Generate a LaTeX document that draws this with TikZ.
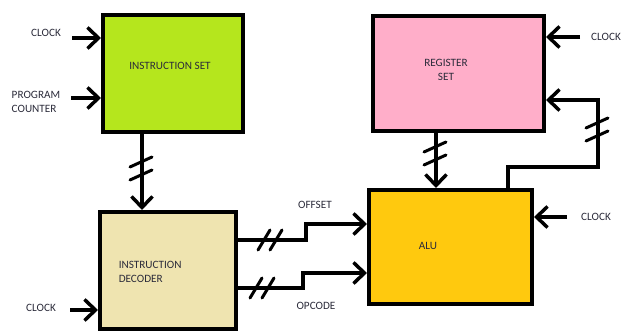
\documentclass[tikz,border=0pt]{standalone}
\usepackage{fontspec}
\setmainfont{Carlito}
\usetikzlibrary{arrows.meta}
\definecolor{isetgreen}{HTML}{B5E61D}
\definecolor{regpink}{HTML}{FFAEC9}
\definecolor{decbeige}{HTML}{EFE4B0}
\definecolor{aluorange}{HTML}{FFC90E}
\definecolor{lbltext}{HTML}{2B2B3A}
\begin{document}
\begin{tikzpicture}[x=1pt, y=-1pt, line width=3.5pt,
    block/.style={draw, line width=4pt, inner sep=0pt},
    sig/.style={-{Straight Barb[length=11pt,width=21pt]}},
    lbl/.style={font=\fontsize{11.2}{14}\selectfont, text=lbltext, inner sep=0pt},
    pics/vbus/.style={code={\draw[line width=3pt, line cap=round]
        (-11,-1) -- (11,-11) (-11,12) -- (11,2);}},
    pics/hbus/.style={code={\draw[line width=3pt, line cap=round]
        (-12,10) -- (0,-10) (0,10) -- (12,-10);}}]
    \useasboundingbox (0,0) rectangle (622,331);

    \node[block, fill=isetgreen, minimum width=140pt, minimum height=117pt] (iset) at (173,73.5) {};
    \node[block, fill=regpink, minimum width=171pt, minimum height=115pt] (rset) at (458.5,73.5) {};
    \node[block, fill=decbeige, minimum width=136pt, minimum height=117pt] (idec) at (168,270.5) {};
    \node[block, fill=aluorange, minimum width=163pt, minimum height=114pt] (alu) at (450.5,247) {};

    \node[lbl] (isetlbl) at (170,66) {INSTRUCTION SET};
    \node[lbl, align=center] (rsetlbl) at (446,70) {REGISTER\\SET};
    \node[lbl, align=left, anchor=west] (ideclbl) at (117,271.5) {INSTRUCTION\\DECODER};
    \node[lbl] (alulbl) at (428,246) {ALU};

    % clocks and program counter
    \coordinate (clkA) at (72,38);
    \coordinate (pcin) at (71,98);
    \coordinate (clkB) at (580,37);
    \coordinate (clkC) at (567,217);
    \coordinate (clkD) at (70,310);
    \draw[sig] (clkA) -- (clkA -| iset.west);
    \draw[sig] (pcin) -- (pcin -| iset.west);
    \draw[sig] (clkB) -- (clkB -| rset.east);
    \draw[sig] (clkC) -- (clkC -| alu.east);
    \draw[sig] (clkD) -- (clkD -| idec.west);
    \node[lbl] (clkAlbl) at (46,33) {CLOCK};
    \node[lbl, align=left, anchor=west] (pclbl) at (10,102) {PROGRAM\\COUNTER};
    \node[lbl] (clkBlbl) at (606,37) {CLOCK};
    \node[lbl] (clkClbl) at (596,217) {CLOCK};
    \node[lbl] (clkDlbl) at (41,308) {CLOCK};

    % buses
    \draw[sig] ([xshift=-31pt]iset.south) -- ([xshift=-26pt]idec.north);
    \pic at (141,168) {vbus};
    \draw[sig] ([xshift=-22.5pt]rset.south) -- ([xshift=-14.5pt]alu.north);
    \pic at (435,153) {vbus};
    \coordinate (fbk) at (598,167);
    \draw[sig] ([xshift=57.5pt]alu.north) |- (fbk) |- ([yshift=-26.5pt]rset.east);
    \pic at (597,129) {vbus};

    \coordinate (offk) at (306,224);
    \coordinate (opck) at (303,273);
    \draw[sig] ([yshift=30.5pt]idec.east) -| (offk) -- (offk -| alu.west);
    \draw[sig] ([yshift=-17.5pt]idec.east) -| (opck) -- (opck -| alu.west);
    \pic at (270,240) {hbus};
    \pic at (262,288) {hbus};
    \node[lbl] (offlbl) at (315,205) {OFFSET};
    \node[lbl] (opclbl) at (316,306) {OPCODE};
\end{tikzpicture}
\end{document}
